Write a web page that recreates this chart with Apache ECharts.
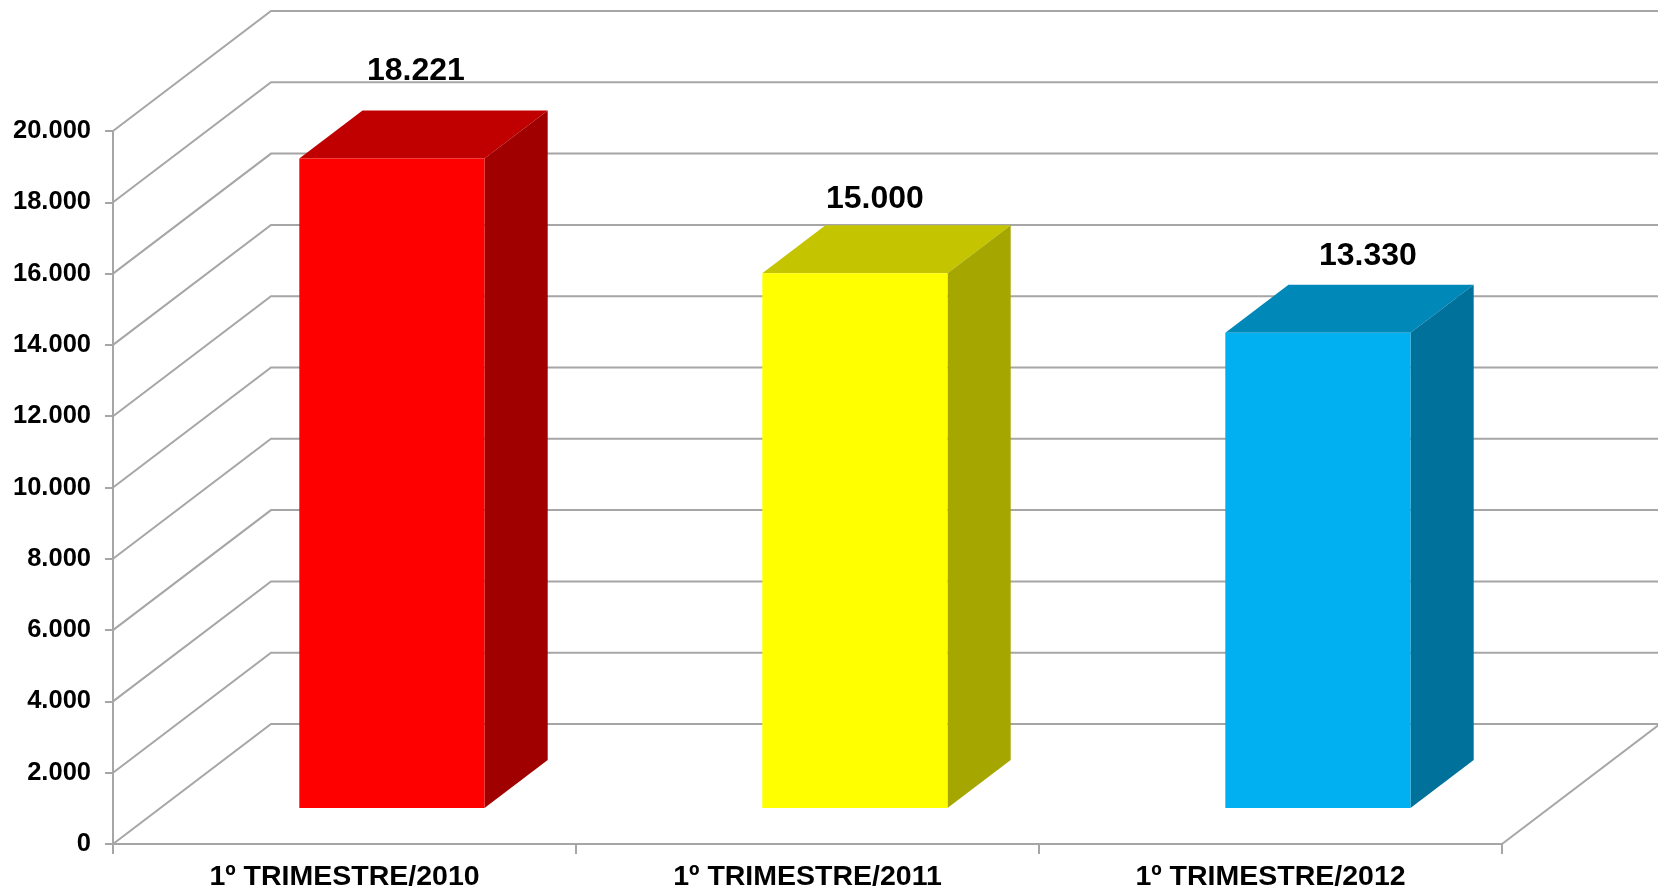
<!DOCTYPE html>
<html>
<head>
<meta charset="utf-8">
<title>1º Trimestre</title>
<script src="https://cdn.jsdelivr.net/npm/echarts@6/dist/echarts.min.js"></script>
<style>
  html, body { margin: 0; padding: 0; background: #fff; }
  #chart { width: 1658px; height: 893px; }
</style>
</head>
<body>
<div id="chart"></div>
<script>
  // dados
  const categories = ['1º TRIMESTRE/2010', '1º TRIMESTRE/2011', '1º TRIMESTRE/2012']
  const values = [18221, 15000, 13330]
  const yTicks = [0, 2000, 4000, 6000, 8000, 10000, 12000, 14000, 16000, 18000, 20000]

  // cores das faces (frente, topo, lado)
  const frontColors = ['#ff0000', '#ffff00', '#00b0f0']
  const topColors = ['#c00000', '#c4c400', '#0088b8']
  const sideColors = ['#a00000', '#a6a600', '#00719b']
  // deslocamento dos rótulos em relação ao topo da face frontal
  const labelShift = [[24, -87], [20, -74], [50, -77]]

  // profundidade do "3D" (projeção oblíqua)
  const DX = 158
  const DY = -120
  const BAR_FRONT = 0.3
  const BAR_BACK = 0.7
  const GRID_COLOR = '#a6a6a6'
  const FONT = '"Liberation Sans", Arial, sans-serif'

  const fmt = v => String(v).replace(/\B(?=(\d{3})+(?!\d))/g, '.')

  const chart = echarts.init(document.getElementById('chart'))

  const renderWall = (params, api) => {
    const cs = params.coordSys
    const y = api.coord([0, api.value(1)])[1]
    const x0 = cs.x
    const x1 = cs.x + cs.width
    const style = { stroke: GRID_COLOR, lineWidth: 2, fill: null }
    const children = [{
      type: 'polyline',
      shape: { points: [[x0, y], [x0 + DX, y + DY], [x1 + DX, y + DY]] },
      style: style
    }]
    if (api.value(1) === 0) {
      children.push({
        type: 'line',
        shape: { x1: x1, y1: y, x2: x1 + DX, y2: y + DY },
        style: style
      })
    }
    return { type: 'group', children: children }
  }

  const renderBar = (params, api) => {
    const i = params.dataIndex
    const base = api.coord([api.value(0), 0])
    const top = api.coord([api.value(0), api.value(1)])
    const hw = api.size([1, 0])[0] * 0.2
    const fx = base[0] + BAR_FRONT * DX
    const fy0 = base[1] + BAR_FRONT * DY
    const fy1 = top[1] + BAR_FRONT * DY
    const bx = base[0] + BAR_BACK * DX
    const by0 = base[1] + BAR_BACK * DY
    const by1 = top[1] + BAR_BACK * DY
    const lx = fx + labelShift[i][0]
    const ly = fy1 + labelShift[i][1]
    return {
      type: 'group',
      children: [{
        type: 'polygon',
        shape: { points: [[fx - hw, fy1], [fx + hw, fy1], [bx + hw, by1], [bx - hw, by1]] },
        style: { fill: topColors[i] }
      }, {
        type: 'polygon',
        shape: { points: [[fx + hw, fy1], [bx + hw, by1], [bx + hw, by0], [fx + hw, fy0]] },
        style: { fill: sideColors[i] }
      }, {
        type: 'rect',
        shape: { x: fx - hw, y: fy1, width: hw * 2, height: fy0 - fy1 },
        style: { fill: frontColors[i] }
      }, {
        type: 'text',
        x: lx,
        y: ly,
        style: {
          text: fmt(api.value(1)),
          fill: '#000',
          font: 'bold 32px ' + FONT,
          align: 'center',
          verticalAlign: 'middle',
          textAlign: 'center',
          textVerticalAlign: 'middle'
        }
      }]
    }
  }

  chart.setOption({
    animation: false,
    backgroundColor: '#fff',
    grid: {
      left: 113,
      right: 156,
      top: 131,
      bottom: 49
    },
    xAxis: {
      type: 'category',
      data: categories,
      boundaryGap: true,
      axisLine: { lineStyle: { color: GRID_COLOR, width: 2 } },
      axisTick: { show: true, length: 10, lineStyle: { color: GRID_COLOR, width: 2 } },
      axisLabel: {
        color: '#000',
        fontFamily: FONT,
        fontWeight: 'bold',
        fontSize: 28.5,
        margin: 19
      },
      splitLine: { show: false }
    },
    yAxis: {
      type: 'value',
      min: 0,
      max: 20000,
      interval: 2000,
      axisLine: { show: true, lineStyle: { color: GRID_COLOR, width: 2 } },
      axisTick: { show: true, length: 8, lineStyle: { color: GRID_COLOR, width: 2 } },
      axisLabel: {
        color: '#000',
        fontFamily: FONT,
        fontWeight: 'bold',
        fontSize: 25.5,
        margin: 22,
        formatter: fmt
      },
      splitLine: { show: false }
    },
    series: [{
      name: 'paredes',
      type: 'custom',
      silent: true,
      z: 1,
      renderItem: renderWall,
      data: yTicks.map(v => [0, v])
    }, {
      name: 'valores',
      type: 'custom',
      silent: true,
      z: 3,
      renderItem: renderBar,
      encode: { x: 0, y: 1 },
      data: values.map((v, i) => [i, v])
    }]
  })
</script>
</body>
</html>
